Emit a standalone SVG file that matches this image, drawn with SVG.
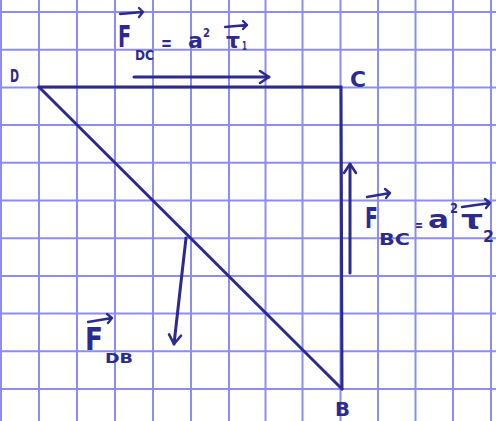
<svg xmlns="http://www.w3.org/2000/svg" width="496" height="421" viewBox="0 0 496 421">
<style>
.grid line{stroke:#8c8cf2;stroke-width:2}
.ink{stroke:#2c2a8e;stroke-width:3;fill:none;stroke-linecap:round;stroke-linejoin:round}
.thin{stroke:#2c2a8e;stroke-width:2.4;fill:none;stroke-linecap:round;stroke-linejoin:round}
text{font-family:"DejaVu Sans","Liberation Sans",sans-serif;fill:#2c2a8e;font-weight:bold}
</style>
<defs>
<marker id="ah" markerUnits="userSpaceOnUse" markerWidth="16" markerHeight="16" viewBox="0 0 16 16" refX="13" refY="8" orient="auto">
<path d="M4,2 L13,8 L4,14" fill="none" stroke="#2c2a8e" stroke-width="2.6" stroke-linecap="round" stroke-linejoin="round"/>
</marker>
</defs>
<rect width="496" height="421" fill="#ffffff"/>
<g class="grid">
<line x1="1" y1="0" x2="1" y2="421"/>
<line x1="39" y1="0" x2="39" y2="421"/>
<line x1="77" y1="0" x2="77" y2="421"/>
<line x1="115" y1="0" x2="115" y2="421"/>
<line x1="153" y1="0" x2="153" y2="421"/>
<line x1="191" y1="0" x2="191" y2="421"/>
<line x1="229" y1="0" x2="229" y2="421"/>
<line x1="265.5" y1="0" x2="265.5" y2="421"/>
<line x1="302.5" y1="0" x2="302.5" y2="421"/>
<line x1="340.5" y1="0" x2="340.5" y2="421"/>
<line x1="378" y1="0" x2="378" y2="421"/>
<line x1="415.5" y1="0" x2="415.5" y2="421"/>
<line x1="453" y1="0" x2="453" y2="421"/>
<line x1="491" y1="0" x2="491" y2="421"/>
<line x1="0" y1="12" x2="496" y2="12"/>
<line x1="0" y1="49.7" x2="496" y2="49.7"/>
<line x1="0" y1="87.4" x2="496" y2="87.4"/>
<line x1="0" y1="125.1" x2="496" y2="125.1"/>
<line x1="0" y1="162.8" x2="496" y2="162.8"/>
<line x1="0" y1="200.5" x2="496" y2="200.5"/>
<line x1="0" y1="238.2" x2="496" y2="238.2"/>
<line x1="0" y1="275.9" x2="496" y2="275.9"/>
<line x1="0" y1="313.6" x2="496" y2="313.6"/>
<line x1="0" y1="351.3" x2="496" y2="351.3"/>
<line x1="0" y1="389" x2="496" y2="389"/>
</g>
<g id="connectors">
<path class="ink" d="M39,87 L341,87"/>
<path class="ink" d="M341,87 L342,389"/>
<path class="ink" d="M39,87 L342,389"/>
<path class="ink" d="M134,77 L269,77" marker-end="url(#ah)"/>
<path class="ink" d="M350,273 L350,164" marker-end="url(#ah)"/>
<path class="ink" d="M186,238 L174,344" marker-end="url(#ah)"/>
</g>
<g id="node-D"><text x="10" y="82" font-size="18" textLength="9" lengthAdjust="spacingAndGlyphs">D</text></g>
<g id="node-C"><text x="350" y="87" font-size="22" textLength="16" lengthAdjust="spacingAndGlyphs">C</text></g>
<g id="node-B"><text x="335" y="416" font-size="20" textLength="15" lengthAdjust="spacingAndGlyphs">B</text></g>
<g id="label-FDC">
<text transform="translate(118,47) scale(0.62,1)" font-size="31">F</text>
<path class="thin" d="M120,14 L143,12 M139,8 L143,12 L139,17"/>
<text x="135" y="60" font-size="14" textLength="19" lengthAdjust="spacingAndGlyphs">DC</text>
<text x="161" y="50" font-size="20" textLength="11" lengthAdjust="spacingAndGlyphs">=</text>
<text x="188" y="48" font-size="21" textLength="15" lengthAdjust="spacingAndGlyphs">a</text>
<text x="203" y="37" font-size="12" textLength="7" lengthAdjust="spacingAndGlyphs">2</text>
<text x="226" y="48" font-size="22" textLength="14" lengthAdjust="spacingAndGlyphs">τ</text>
<path class="thin" d="M225,27 L247,25 M243,21 L247,25 L243,29"/>
<text x="242" y="50" font-size="12" textLength="5" lengthAdjust="spacingAndGlyphs">1</text>
</g>
<g id="label-FBC">
<text transform="translate(365,228) scale(0.65,1)" font-size="29">F</text>
<path class="thin" d="M367,197 L390,193 M385,189 L390,193 L386,198"/>
<text x="379" y="245" font-size="16" textLength="31" lengthAdjust="spacingAndGlyphs">BC</text>
<text x="415" y="230" font-size="15" textLength="8" lengthAdjust="spacingAndGlyphs">=</text>
<text x="428" y="228" font-size="24" textLength="21" lengthAdjust="spacingAndGlyphs">a</text>
<text x="450" y="213" font-size="14" textLength="8" lengthAdjust="spacingAndGlyphs">2</text>
<text x="461" y="229" font-size="26" textLength="22" lengthAdjust="spacingAndGlyphs">τ</text>
<path class="thin" d="M462,207 L490,203 M485,199 L490,203 L486,208"/>
<text x="483" y="242" font-size="16" textLength="11" lengthAdjust="spacingAndGlyphs">2</text>
</g>
<g id="label-FDB">
<text transform="translate(85,350) scale(0.82,1)" font-size="32">F</text>
<path class="thin" d="M88,322 L112,318 M107,314 L112,318 L108,323"/>
<text x="105" y="363" font-size="14" textLength="28" lengthAdjust="spacingAndGlyphs">DB</text>
</g>
</svg>
